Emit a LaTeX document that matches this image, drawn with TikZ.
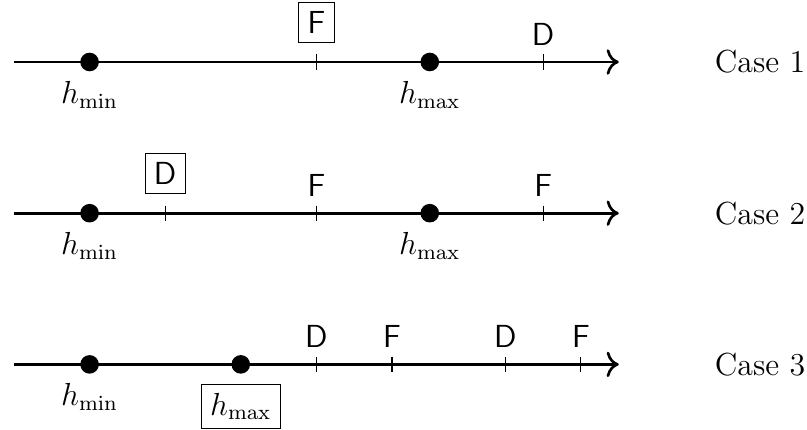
\documentclass[tikz,border=0pt]{standalone}
\usepackage{amsmath}
\usetikzlibrary{arrows.meta,positioning}
\tikzset{
  axis/.style={-{To[scale=1.2]}, line width=1pt},
  hdot/.style={circle, fill=black, inner sep=0pt, minimum size=7pt},
  tickmark/.style={thin},
  evlab/.style={font=\large\sffamily},
  boxlab/.style={draw, font=\large\sffamily},
  hlab/.style={font=\large},
  hbox/.style={draw, font=\large, label distance=3.5pt},
  casename/.style={font=\large}
}

\begin{document}
\begin{tikzpicture}
\useasboundingbox (-1.185,-0.86) rectangle (9.49,4.82);

% Case 1: F inside the interval, D beyond h_max
\coordinate (s1) at (-1,4);
\coordinate (e1) at (7,4);
\draw[axis] (s1) -- (e1);
\node[hdot, label={[hlab]below:$h_{\min}$}] (min1) at (0,4) {};
\node[hdot, label={[hlab]below:$h_{\max}$}] (max1) at (4.5,4) {};
\foreach \x/\n in {3/a, 6/b} {
  \draw[tickmark] (\x,4.1) coordinate (t1\n) -- (\x,3.9);
}
\node[boxlab, above=0.15cm of t1a] (f1) {F};
\node[evlab, above=0pt of t1b] (d1) {D};
\node[casename] (c1) at (8.87,4) {Case 1};

% Case 2: D inside the interval, F after it
\coordinate (s2) at (-1,2);
\coordinate (e2) at (7,2);
\draw[axis] (s2) -- (e2);
\node[hdot, label={[hlab]below:$h_{\min}$}] (min2) at (0,2) {};
\node[hdot, label={[hlab]below:$h_{\max}$}] (max2) at (4.5,2) {};
\foreach \x/\n in {1/a, 3/b, 6/c} {
  \draw[tickmark] (\x,2.1) coordinate (t2\n) -- (\x,1.9);
}
\node[boxlab, above=0.15cm of t2a] (d2) {D};
\node[evlab, above=0pt of t2b] (f2a) {F};
\node[evlab, above=0pt of t2c] (f2b) {F};
\node[casename] (c2) at (8.87,2) {Case 2};

% Case 3: every event after h_max
\coordinate (s3) at (-1,0);
\coordinate (e3) at (7,0);
\draw[axis] (s3) -- (e3);
\node[hdot, label={[hlab]below:$h_{\min}$}] (min3) at (0,0) {};
\node[hdot, label={[hbox]below:$h_{\max}$}] (max3) at (2,0) {};
\foreach \x/\n/\t in {3/a/D, 4/b/F, 5.5/c/D, 6.5/d/F} {
  \draw[tickmark] (\x,0.1) coordinate (t3\n) -- (\x,-0.1);
  \node[evlab, above=0pt of t3\n] (l3\n) {\t};
}
\node[casename] (c3) at (8.87,0) {Case 3};

\end{tikzpicture}
\end{document}
